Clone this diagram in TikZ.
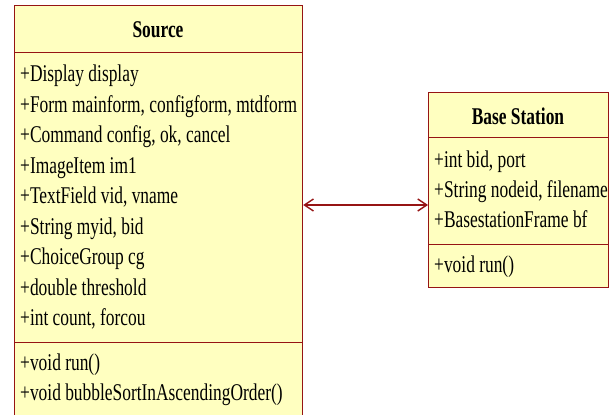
\documentclass[tikz,border=0pt]{standalone}
\usepackage{fontspec}
\setmainfont{Liberation Serif}[FakeStretch=0.725]
\usetikzlibrary{arrows.meta}
\definecolor{umlfill}{RGB}{255,255,192}
\definecolor{umlline}{RGB}{150,20,20}

\begin{document}
\begin{tikzpicture}[x=1pt,y=-1pt,
  compartment/.style={draw=umlline, fill=umlfill, line width=1.2pt, inner sep=0pt, anchor=north west},
  member/.style={anchor=base west, inner sep=0pt, font=\fontsize{24}{28}\selectfont},
  classname/.style={anchor=base, inner sep=0pt, font=\fontsize{24}{28}\selectfont\bfseries},
  assoc/.style={draw=umlline, line width=1.4pt,
    {Straight Barb[length=9pt,width=12pt]}-{Straight Barb[length=9pt,width=12pt]}}]
\clip (0,0) rectangle (611,415);

% class Source: name, attributes, operations
\node[compartment, minimum width=288pt, minimum height=47pt]  (src-name) at (14,5)   {};
\node[compartment, minimum width=288pt, minimum height=290pt] (src-attr) at (14,52)  {};
\node[compartment, minimum width=288pt, minimum height=90pt]  (src-ops)  at (14,342) {};
\node[classname] (src-title) at (158,37) {Source};
\foreach \txt [count=\i] in {{+Display display},
    {+Form mainform, configform, mtdform},
    {+Command config, ok, cancel},
    {+ImageItem im1},
    {+TextField vid, vname},
    {+String myid, bid},
    {+ChoiceGroup cg},
    {+double threshold},
    {+int count, forcou}}
  \node[member] (src-a\i) at ({20},{81.5+30.5*(\i-1)}) {\txt};
\node[member] (src-o1) at (20,370) {+void run()};
\node[member] (src-o2) at (20,400) {+void bubbleSortInAscendingOrder()};

% class Base Station
\node[compartment, minimum width=180pt, minimum height=45pt]  (bs-name) at (428,92)  {};
\node[compartment, minimum width=180pt, minimum height=107pt] (bs-attr) at (428,137) {};
\node[compartment, minimum width=180pt, minimum height=43pt]  (bs-ops)  at (428,244) {};
\node[classname] (bs-title) at (518,124) {Base Station};
\node[member] (bs-a1) at (434,167) {+int bid, port};
\node[member] (bs-a2) at (434,197) {+String nodeid, filename};
\node[member] (bs-a3) at (434,227) {+BasestationFrame bf};
\node[member] (bs-o1) at (434,272) {+void run()};

% navigable association in both directions
\coordinate (link) at (365,205);
\draw[assoc] (src-attr.east |- link) -- (bs-attr.west |- link);
\end{tikzpicture}
\end{document}
